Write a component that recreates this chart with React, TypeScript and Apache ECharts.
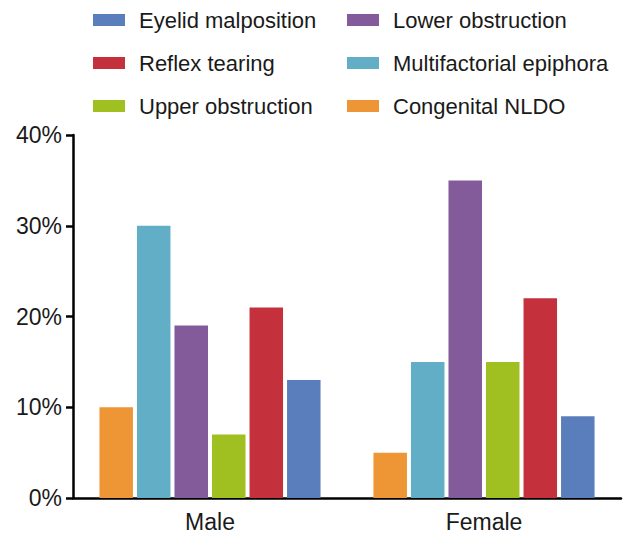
import React, { useEffect, useRef } from "react";
import * as echarts from "echarts";

const categories = ["Male", "Female"];
const seriesNames = [
  "Congenital NLDO",
  "Multifactorial epiphora",
  "Lower obstruction",
  "Upper obstruction",
  "Reflex tearing",
  "Eyelid malposition",
];
const seriesColors = ["#EE9535", "#62AEC7", "#835A9A", "#A0C021", "#C4313D", "#5A7EBB"];
const congenitalNLDO = [10, 5];
const multifactorial = [30, 15];
const lowerObstruction = [19, 35];
const upperObstruction = [7, 15];
const reflexTearing = [21, 22];
const eyelidMalposition = [13, 9];
const seriesValues = [congenitalNLDO, multifactorial, lowerObstruction, upperObstruction, reflexTearing, eyelidMalposition];
const legendLeftCol = ["Eyelid malposition", "Reflex tearing", "Upper obstruction"];
const legendRightCol = ["Lower obstruction", "Multifactorial epiphora", "Congenital NLDO"];
const yTicks = { min: 0, max: 40, interval: 10 };

export default function App() {
  const ref = useRef<HTMLDivElement>(null);
  useEffect(() => {
    if (!ref.current) return;
    const chart = echarts.init(ref.current, null, { renderer: "svg" });
    const font = "Liberation Sans, Arial, sans-serif";
    const legendCommon = {
      orient: "vertical" as const,
      top: 4,
      itemWidth: 32,
      itemHeight: 12,
      itemGap: 21,
      icon: "rect",
      selectedMode: false,
      textStyle: { fontSize: 22, fontFamily: font, color: "#1a1a1a", lineHeight: 22, padding: [0, 0, 0, 9] },
    };
    chart.setOption({
      animation: false,
      backgroundColor: "#fff",
      legend: [
        { ...legendCommon, left: 88, data: legendLeftCol },
        { ...legendCommon, left: 342, data: legendRightCol },
      ],
      grid: { left: 73, right: 6, top: 135, bottom: 35, containLabel: false },
      xAxis: {
        type: "category",
        data: categories,
        axisLine: { lineStyle: { color: "#000", width: 2.5 } },
        axisTick: { alignWithLabel: true, length: 8, lineStyle: { color: "#000", width: 2.5 } },
        axisLabel: { fontSize: 23, fontFamily: font, color: "#1a1a1a", margin: 12 },
      },
      yAxis: {
        type: "value",
        min: yTicks.min,
        max: yTicks.max,
        interval: yTicks.interval,
        splitLine: { show: false },
        axisLine: { show: true, lineStyle: { color: "#000", width: 2.5 } },
        axisTick: { show: true, length: 7, lineStyle: { color: "#000", width: 2.5 } },
        axisLabel: { fontSize: 23, fontFamily: font, color: "#1a1a1a", margin: 11, formatter: "{value}%" },
      },
      series: seriesNames.map((name, i) => ({
        name,
        type: "bar",
        data: seriesValues[i],
        barWidth: 33.5,
        barGap: "12%",
        itemStyle: { color: seriesColors[i] },
      })),
    });
    return () => chart.dispose();
  }, []);
  return <div ref={ref} style={{ position: "fixed", left: 0, top: 0, width: 627, height: 533 }} />;
}
